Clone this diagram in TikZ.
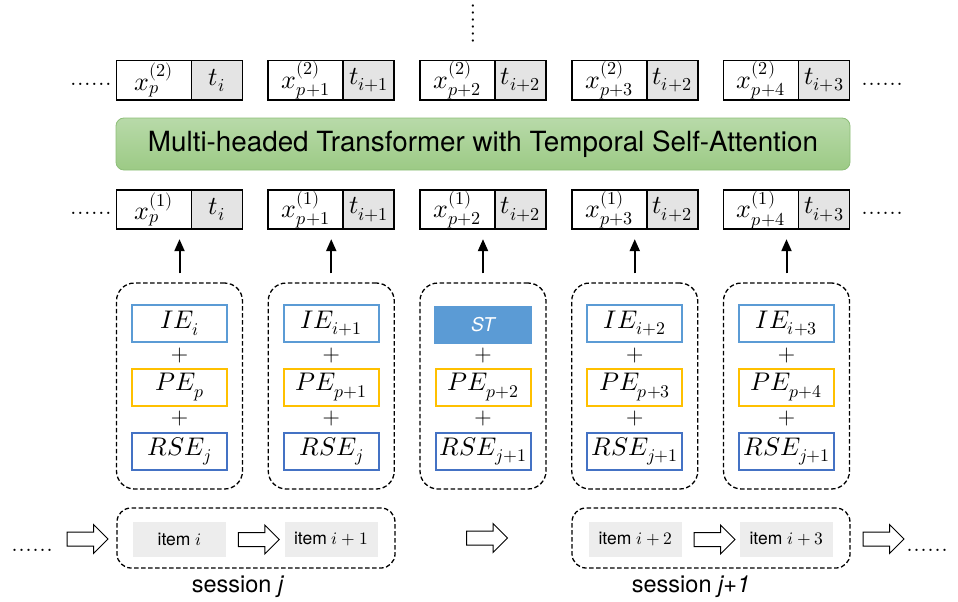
\documentclass[tikz,border=0pt]{standalone}
\usepackage{fontspec}
\usepackage{unicode-math}
\setmathfont{Latin Modern Math}
\setsansfont{TeX Gyre Heros}
\usetikzlibrary{shapes.arrows,arrows.meta,calc}

\definecolor{ieblue}{HTML}{5B9BD5}
\definecolor{pegold}{HTML}{FFC000}
\definecolor{rseblue}{HTML}{4472C4}
\definecolor{tgrey}{HTML}{E4E4E4}
\definecolor{igrey}{HTML}{EDEDED}
\definecolor{gtop}{HTML}{B8DAA9}
\definecolor{gbot}{HTML}{9CCA85}
\definecolor{gedge}{HTML}{8DBE78}

\begin{document}
\begin{tikzpicture}[x=1pt,y=-1pt,
  xcell/.style={draw, line width=1.8pt, minimum width=75pt, minimum height=39.5pt,
    inner sep=0pt, fill=white, font=\fontsize{26}{30}\selectfont},
  tcell/.style={xcell, minimum width=51pt, fill=tgrey},
  bar/.style={draw=gedge, line width=0.8pt, rounded corners=8pt, top color=gtop,
    bottom color=gbot, minimum width=734pt, minimum height=52pt, inner sep=0pt,
    font=\sffamily\fontsize{27.8}{32}\selectfont},
  group/.style={draw, dash pattern=on 4.5pt off 2.5pt, line width=1.3pt,
    rounded corners=18pt, minimum width=126pt, minimum height=206pt},
  session/.style={group, rounded corners=14pt, minimum width=278pt, minimum height=60pt},
  emb/.style={draw, line width=2pt, minimum width=95pt, minimum height=37pt,
    inner sep=0pt, fill=white, font=\fontsize{25.5}{30}\selectfont},
  stbox/.style={fill=ieblue, minimum width=98pt, minimum height=38pt, inner sep=0pt,
    text=white, font=\sffamily\itshape\fontsize{19}{22}\selectfont},
  plus/.style={font=\rmfamily\fontsize{24}{28}\selectfont, inner sep=0pt},
  item/.style={fill=igrey, minimum width=93pt, minimum height=35pt, inner sep=0pt,
    font=\sffamily\fontsize{17.5}{20}\selectfont},
  lab/.style={font=\sffamily\fontsize{23.5}{26}\selectfont, inner sep=0pt, anchor=base},
  dotsnode/.style={font=\rmfamily\fontsize{28}{30}\selectfont, inner sep=0pt},
  harrow/.style={single arrow, draw, line width=1pt, fill=white, minimum height=41pt,
    single arrow head extend=7.5pt, inner xsep=0pt, inner ysep=6.5pt},
  uparrow/.style={-{Triangle[width=10pt,length=12pt]}, line width=2pt,
    shorten <=9pt, shorten >=9pt}
]
\useasboundingbox (0,0) rectangle (958,602);

% vertical ellipsis above the top layer
\node[dotsnode, rotate=90] (vdots) at (473,24) {......};

% second-layer and first-layer tokens
\foreach \k/\s/\t in {0/p/i, 1/p+1/i+1, 2/p+2/i+2, 3/p+3/i+2, 4/p+4/i+3}{
  \pgfmathsetmacro\cx{179.5+151.75*\k}
  \node[xcell] (x2-\k) at (\cx-25.5,80.3) {$x^{(2)}_{\s}$};
  \node[tcell] (t2-\k) at (\cx+37.5,80.3) {$t_{\t}$};
  \node[xcell] (x1-\k) at (\cx-25.5,209.5) {$x^{(1)}_{\s}$};
  \node[tcell] (t1-\k) at (\cx+37.5,209.5) {$t_{\t}$};
}
\node[dotsnode, anchor=base east] (d2l) at (112,85) {......};
\node[dotsnode, anchor=base west] (d2r) at (861,85) {......};
\node[dotsnode, anchor=base east] (d1l) at (112,214) {......};
\node[dotsnode, anchor=base west] (d1r) at (861,214) {......};

% transformer block
\node[bar] (tf) at (483,144) {Multi-headed Transformer with Temporal Self-Attention};

% embedding sums
\foreach \k/\ie/\pe/\rse in {0/i/p/j, 1/i+1/p+1/j, 3/i+2/p+3/j+1, 4/i+3/p+4/j+1}{
  \pgfmathsetmacro\cx{179.5+151.75*\k}
  \node[group] (g-\k) at (\cx,386) {};
  \node[emb, draw=ieblue] (ie-\k) at (\cx,323.5) {$IE_{\ie}$};
  \node[emb, draw=pegold] (pe-\k) at (\cx,387) {$PE_{\pe}$};
  \node[emb, draw=rseblue] (rse-\k) at (\cx,451) {$RSE_{\rse}$};
}
\node[group] (g-2) at (483,386) {};
\node[stbox] (ie-2) at (483,325) {ST};
\node[emb, draw=pegold] (pe-2) at (483,387) {$PE_{p+2}$};
\node[emb, draw=rseblue] (rse-2) at (483,451) {$RSE_{j+1}$};

\foreach \k in {0,...,4}{
  \node[plus] (pa-\k) at ($(ie-\k.south)!0.5!(pe-\k.north)$) {+};
  \node[plus] (pb-\k) at ($(pe-\k.south)!0.5!(rse-\k.north)$) {+};
  \draw[uparrow] (g-\k.north) -- (g-\k.north |- x1-\k.south);
}

% item sequence
\node[dotsnode, anchor=base west] (bl) at (11,551) {......};
\node[session] (s1) at (256,538) {};
\node[session] (s2) at (711,538) {};
\node[item] (it0) at (179.5,539.5) {item $i$};
\node[item] (it1) at (331,539.5) {item $i+1$};
\node[item] (it2) at (635.5,539.5) {item $i+2$};
\node[item] (it3) at (786.5,539.5) {item $i+3$};
\node[dotsnode, anchor=base west] (br) at (906,551) {......};

\node[harrow] (h0) at (84,539) {};
\node[harrow] (h1) at ($(it0.east)!0.5!(it1.west)$) {};
\node[harrow] (h2) at ($(s1.east)!0.5!(s2.west)$) {};
\node[harrow] (h3) at ($(it2.east)!0.5!(it3.west)$) {};
\node[harrow] (h4) at (880,539) {};

\node[lab] (l1) at (238,592) {session \textit{j}};
\node[lab] (l2) at (691,592) {session \textit{j+1}};
\end{tikzpicture}
\end{document}
